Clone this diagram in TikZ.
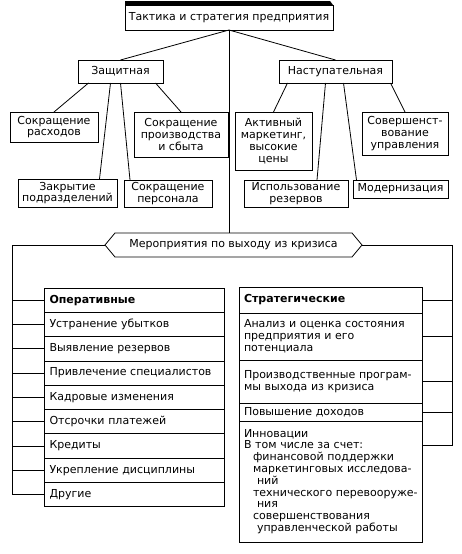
\documentclass[tikz,border=0pt]{standalone}
\usepackage{fontspec}
\setmainfont{DejaVu Sans}
\usetikzlibrary{positioning}

\begin{document}
\begin{tikzpicture}[x=1pt, y=-1pt, line width=0.8pt,
  every node/.style={font=\fontsize{11}{11.8}\selectfont, inner sep=0pt, outer sep=0pt},
  box/.style={draw, align=center},
  oprow/.style={draw, align=left, text width=169pt, inner xsep=5.5pt, minimum height=24.3pt},
  strow/.style={draw, align=left, text width=173pt, inner xsep=5pt}]

  \useasboundingbox (0,0) rectangle (462,554);

  \node[box, minimum width=208, minimum height=25] (top) at (229,17.5) {Тактика и стратегия предприятия};
  \fill (top.north west) -- ++(0,-4) -- ([xshift=-3pt, yshift=4pt]top.north east) -- (top.north east) -- cycle;

  \node[box, minimum width=85, minimum height=23] (def) at (120.5,71.5) {Защитная};
  \node[box, minimum width=113, minimum height=23] (att) at (335.5,71.5) {Наступательная};
  \draw (top.south) -- (def.north);
  \draw (top.south) -- (att.north);

  \node[box, minimum width=88, minimum height=30] (cost) at (54,127) {Сокращение\\расходов};
  \node[box, minimum width=94, minimum height=45] (prod) at (181,134.5) {Сокращение\\производства\\и сбыта};
  \node[box, minimum width=99, minimum height=28] (close) at (67.5,193) {Закрытие\\подразделений};
  \node[box, minimum width=88, minimum height=27] (staff) at (168,193.5) {Сокращение\\персонала};
  \draw ([xshift=-32pt]def.south) -- (cost.north);
  \draw ([xshift=-10pt]def.south) -- ([xshift=32pt]close.north);
  \draw (def.south) -- ([xshift=-38pt]staff.north);
  \draw ([xshift=35pt]def.south) -- (prod.north);

  \node[box, minimum width=77, minimum height=58] (mark) at (273.5,141) {Активный\\маркетинг,\\высокие\\цены};
  \node[box, minimum width=86, minimum height=43] (mgmt) at (405,133.5) {Совершенст-\\вование\\управления};
  \node[box, minimum width=104, minimum height=27] (res) at (296,193.5) {Использование\\резервов};
  \node[box, minimum width=95, minimum height=18] (mod) at (400.5,189) {Модернизация};
  \draw ([xshift=-48pt]att.south) -- (mark.north);
  \draw ([xshift=-10pt]att.south) -- ([xshift=21pt]res.north);
  \draw ([xshift=8pt]att.south) -- ([xshift=-44pt]mod.north);
  \draw ([xshift=55pt]att.south) -- (mgmt.north);

  \node[minimum width=237, minimum height=24] (exit) at (233.5,245) {Мероприятия по выходу из кризиса};
  \draw (exit.north west) -- (exit.north east) -- ++(10,12) -- (exit.south east)
    -- (exit.south west) -- ++(-10,-12) -- cycle;
  \draw (top.south) -- (top.south |- exit.north);
  \coordinate (exitW) at ([xshift=-10pt]exit.west);
  \coordinate (exitE) at ([xshift=10pt]exit.east);

  \node[oprow] (op1) at (134,300.2) {\textbf{Оперативные}};
  \node[oprow, below=0pt of op1] (op2) {Устранение убытков};
  \node[oprow, below=0pt of op2] (op3) {Выявление резервов};
  \node[oprow, below=0pt of op3] (op4) {Привлечение специалистов};
  \node[oprow, below=0pt of op4] (op5) {Кадровые изменения};
  \node[oprow, below=0pt of op5] (op6) {Отсрочки платежей};
  \node[oprow, below=0pt of op6] (op7) {Кредиты};
  \node[oprow, below=0pt of op7] (op8) {Укрепление дисциплины};
  \node[oprow, below=0pt of op8] (op9) {Другие};

  \node[strow, minimum height=26] (st1) at (330.5,300) {\textbf{Стратегические}};
  \node[strow, minimum height=47, below=0pt of st1] (st2) {Анализ и оценка состояния\\предприятия и его\\потенциала};
  \node[strow, minimum height=43, below=0pt of st2] (st3) {Производственные програм-\\мы выхода из кризиса};
  \node[strow, minimum height=18, below=0pt of st3] (st4) {Повышение доходов};
  \node[strow, minimum height=121, below=0pt of st4] (st5) {Инновации\\
    В том числе за счет:\\
    \mbox{\hspace*{9pt}финансовой поддержки}\\
    \mbox{\hspace*{9pt}маркетинговых исследова-}\\
    \hspace*{13pt}ний\\
    \mbox{\hspace*{9pt}технического перевооруже-}\\
    \hspace*{13pt}ния\\
    \mbox{\hspace*{9pt}совершенствования}\\
    \mbox{\hspace*{13pt}управленческой работы}};

  \coordinate (busL) at (12,0);
  \coordinate (busR) at (452,0);
  \coordinate (innov) at ([yshift=-24pt]st5.north east);
  \draw (exitW) -| (op9.west -| busL) -- (op9.west);
  \draw (op1.west) -- (op1.west -| busL);
  \draw (op2.west) -- (op2.west -| busL);
  \draw (op3.west) -- (op3.west -| busL);
  \draw (op4.west) -- (op4.west -| busL);
  \draw (op5.west) -- (op5.west -| busL);
  \draw (op6.west) -- (op6.west -| busL);
  \draw (op7.west) -- (op7.west -| busL);
  \draw (op8.west) -- (op8.west -| busL);
  \draw (exitE) -| (innov -| busR) -- (innov);
  \draw (st1.east) -- (st1.east -| busR);
  \draw (st2.east) -- (st2.east -| busR);
  \draw (st3.east) -- (st3.east -| busR);
  \draw (st4.east) -- (st4.east -| busR);

\end{tikzpicture}
\end{document}
